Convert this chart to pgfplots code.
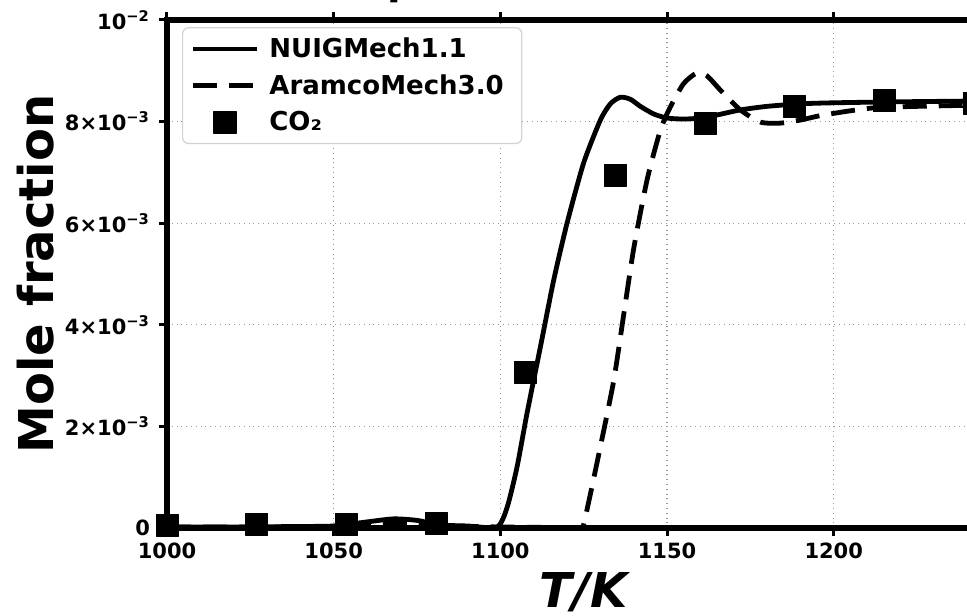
\documentclass[border=0pt]{standalone}
\usepackage{fontspec}
\setmainfont{DejaVu Sans}
\usepackage{pgfplots}
\pgfplotsset{compat=1.18}

\newcommand{\sci}[2]{#1×10\textsuperscript{−#2}}

\begin{document}
\begin{tikzpicture}
\path[use as bounding box] (-83.5pt,-43.5pt) rectangle (400pt,264pt);
\begin{scope}
\clip (-83.5pt,-43.5pt) rectangle (400pt,264pt);
\begin{axis}[
    scale only axis,
    width=416.7pt, height=254pt,
    at={(0pt,0pt)}, anchor=south west,
    xmin=1000, xmax=1250, ymin=0, ymax=0.01,
    xtick={1000,1050,1100,1150,1200},
    ytick={0,0.002,0.004,0.006,0.008,0.01},
    yticklabels={0,\sci{2}{3},\sci{4}{3},\sci{6}{3},\sci{8}{3},10\textsuperscript{−2}},
    scaled y ticks=false,
    xticklabel={\pgfmathprintnumber[1000 sep={},assume math mode=true]{\tick}},
    axis line style={line width=2.6pt},
    tick align=outside,
    major tick length=4pt,
    tick style={line width=1.5pt, black},
    xmajorgrids, ymajorgrids,
    grid style={dotted, gray!80, line width=0.6pt},
    ticklabel style={font=\fontsize{10.5}{12}\selectfont\bfseries},
    yticklabel style={xshift=-1pt},
    xlabel={T/K},
    ylabel={Mole fraction},
    every axis x label/.style={at={(axis description cs:0.5,0)}, anchor=center, yshift=-32pt,
        font=\fontsize{24}{28}\selectfont\bfseries\itshape},
    every axis y label/.style={at={(axis description cs:-0.158,0.5)}, anchor=center, rotate=90,
        font=\fontsize{24}{28}\selectfont\bfseries},
    legend style={at={(axis description cs:0.018,0.986)}, anchor=north west,
        draw=gray!35, line width=0.6pt, rounded corners=3pt,
        fill=white,
        font=\fontsize{13}{15}\selectfont\bfseries,
        row sep=3pt, inner xsep=4pt, inner ysep=3pt,
        nodes={inner xsep=5pt},
        cells={anchor=west}},
    legend image code/.code={\draw[mark repeat=2,mark phase=2,#1] plot coordinates {(-3pt,0pt) (13pt,0pt) (29pt,0pt)};},
]
% NUIGMech1.1
\addplot[black, line width=2.4pt, smooth, tension=0.4] coordinates {
(1000,0.00002) (1020,0.00002) (1040,0.00003) (1050,0.00004) (1060,0.00012)
(1068,0.00018) (1075,0.00015) (1082,0.00006) (1090,0.00004) (1099,0.00002)
(1102,0.0004) (1105,0.0012) (1108,0.00226) (1112,0.00356) (1116,0.00488)
(1120,0.0060) (1125,0.00719) (1130,0.00803) (1133,0.00835) (1136,0.00848)
(1139,0.00844) (1142,0.0083) (1146,0.00815) (1150,0.00807) (1155,0.00805)
(1160,0.00807) (1165,0.00813) (1172,0.00823) (1180,0.0083) (1190,0.00835)
(1200,0.00837) (1220,0.00839) (1250,0.00841)
};
\addlegendentry{NUIGMech1.1}
% AramcoMech3.0
\addplot[black, line width=2.4pt, dash pattern=on 12pt off 6pt, smooth, tension=0.4] coordinates {
(1000,0.00002) (1040,0.00002) (1055,0.00004) (1065,0.0001) (1075,0.0001)
(1085,0.00004) (1100,0.00002) (1115,0.00001) (1124,0.0)
(1125.5,0.00022) (1130,0.0016) (1134,0.0029) (1137,0.0042) (1140,0.0055)
(1144,0.00685) (1148,0.00783) (1151,0.00829) (1155,0.00875) (1159,0.00896)
(1162,0.0089) (1166,0.00862) (1172,0.00823) (1178,0.00799) (1184,0.00797)
(1190,0.00803) (1197,0.00813) (1212,0.00827) (1232,0.00831) (1250,0.00833)
};
\addlegendentry{AramcoMech3.0}
% CO2
\addplot[only marks, mark=square*, mark size=5.5pt, black,
    mark options={line join=round}] coordinates {
(1000,0.00005) (1026.9,0.00008) (1053.8,0.00008) (1080.7,0.0001)
(1107.6,0.00307) (1134.5,0.00695) (1161.4,0.00797) (1188.3,0.00829)
(1215.2,0.00841) (1242.1,0.00836)
};
\addlegendentry{CO₂}
\end{axis}
\node[anchor=base, font=\fontsize{20}{24}\selectfont\bfseries] at (204pt,266.5pt) {φ = 0.50, 1.0 atm};
\end{scope}
\end{tikzpicture}
\end{document}
